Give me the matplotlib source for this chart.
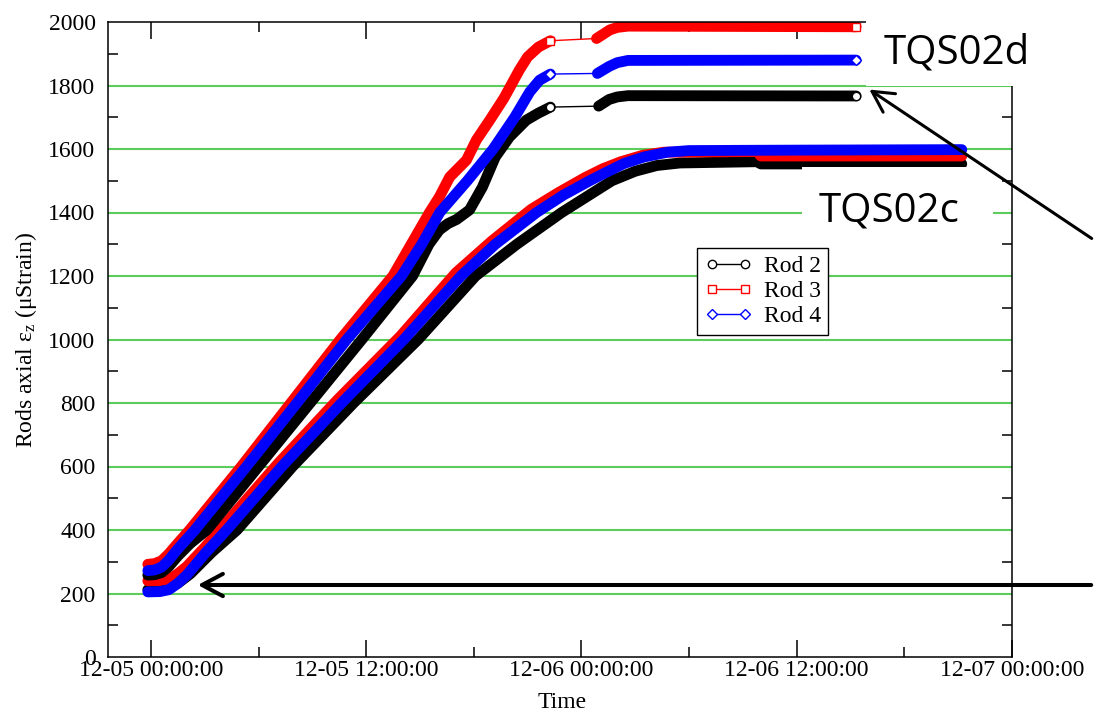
import matplotlib
matplotlib.use("Agg")
import matplotlib.pyplot as plt
from matplotlib.lines import Line2D
from matplotlib.patches import Rectangle, FancyArrowPatch

plt.rcParams['font.family'] = ['Liberation Serif', 'DejaVu Serif']
plt.rcParams['mathtext.fontset'] = 'custom'
plt.rcParams['mathtext.rm'] = 'Liberation Serif'
plt.rcParams['mathtext.it'] = 'Liberation Serif:italic'

# Time in hours since 12-05 00:00:00, strain in microstrain
tick_hours = [0, 12, 24, 36, 48]
tick_labels = ["12-05 00:00:00", "12-05 12:00:00", "12-06 00:00:00",
               "12-06 12:00:00", "12-07 00:00:00"]
rod_names = ["Rod 2", "Rod 3", "Rod 4"]
rod_colors = ["#000000", "#ff0000", "#0000ff"]
rod_markers = ["o", "s", "D"]

# TQS02d: two recorded stretches with a gap between them
tqs02d_rod2_hours_a = [-0.17, 0.2, 0.6, 1.0, 1.5, 2.2, 3.12, 6.0, 8.88, 11.76, 14.59,
                       15.5, 16.08, 16.56, 17.04, 17.76, 18.48, 19.2, 19.99, 20.93,
                       21.6, 22.27]
tqs02d_rod2_strain_a = [258, 259, 266, 285, 318, 358, 400, 600, 800, 1000, 1200,
                        1300, 1345, 1365, 1378, 1408, 1480, 1575, 1638, 1691,
                        1713, 1732]
tqs02d_rod2_hours_b = [24.96, 25.54, 26.0, 26.6, 39.31]
tqs02d_rod2_strain_b = [1735, 1756, 1764, 1768, 1767]

tqs02d_rod3_hours_a = [-0.17, 0.2, 0.6, 1.0, 1.5, 2.16, 5.04, 7.8, 10.56, 13.49, 15.53,
                       16.08, 16.66, 17.59, 18.14, 18.89, 19.68, 20.54, 21.0, 21.6,
                       22.27]
tqs02d_rod3_strain_a = [292, 294, 303, 325, 358, 400, 600, 800, 1000, 1200, 1400,
                        1449, 1512, 1565, 1628, 1691, 1760, 1849, 1890, 1921,
                        1941]
tqs02d_rod3_hours_b = [24.84, 25.58, 26.0, 26.6, 39.31]
tqs02d_rod3_strain_b = [1948, 1975, 1983, 1987, 1985]

tqs02d_rod4_hours_a = [-0.17, 0.2, 0.6, 1.0, 1.5, 2.45, 5.33, 8.14, 10.92, 13.97,
                       15.1, 16.10, 17.64, 19.08, 20.28, 21.12, 21.67, 22.27]
tqs02d_rod4_strain_a = [272, 274, 283, 305, 340, 400, 600, 800, 1000, 1200,
                        1300, 1400, 1500, 1600, 1700, 1780, 1817, 1836]
tqs02d_rod4_hours_b = [24.89, 25.54, 26.0, 26.6, 39.31]
tqs02d_rod4_strain_b = [1838, 1860, 1872, 1879, 1880]

# TQS02c: one continuous record
tqs02c_rod2_hours = [-0.17, 0.5, 1.0, 1.5, 2.2, 3.4, 4.8, 7.9, 11.3, 14.9, 18.1,
                     20.4, 22.9, 24.3, 25.7, 27.0, 28.2, 29.5, 33.8, 34.0, 45.2]
tqs02c_rod2_strain = [212, 213, 218, 232, 262, 330, 400, 600, 800, 1000, 1200,
                      1300, 1400, 1450, 1500, 1530, 1548, 1556, 1560, 1553, 1553]
tqs02c_rod3_hours = [-0.17, 0.5, 1.0, 1.5, 2.0, 3.0, 4.0, 7.1, 10.4, 13.9, 17.0,
                     19.0, 21.2, 22.7, 24.2, 25.2, 26.2, 27.4, 28.6, 33.8, 34.0, 45.2]
tqs02c_rod3_strain = [240, 241, 245, 262, 285, 345, 410, 610, 810, 1010, 1210,
                      1310, 1410, 1462, 1510, 1538, 1560, 1580, 1590, 1592, 1578, 1578]
tqs02c_rod4_hours = [-0.17, 0.5, 1.0, 1.5, 2.0, 3.0, 4.22, 7.3, 10.63, 14.1, 17.28,
                     19.2, 21.5, 23.0, 24.46, 25.5, 26.4, 27.5, 28.8, 30.0, 33.8, 45.2]
tqs02c_rod4_strain = [205, 206, 212, 232, 258, 325, 400, 600, 800, 1000, 1200,
                      1300, 1400, 1455, 1500, 1530, 1555, 1575, 1590, 1595, 1596, 1598]

W, H = 1094, 711
fig = plt.figure(figsize=(W / 100, H / 100), dpi=100)
ax = fig.add_axes([108 / W, 54 / H, 904 / W, 635 / H])

BAND = 7.8
FS = 17

ax.set_ylim(0, 2000)
ax.set_xlim(-2.39, 48)
for yv in range(200, 2000, 200):
    ax.axhline(yv, color="#5ccc5c", lw=1.5, zorder=1)

# TQS02c bands
c_series = [(tqs02c_rod2_hours, tqs02c_rod2_strain),
            (tqs02c_rod3_hours, tqs02c_rod3_strain),
            (tqs02c_rod4_hours, tqs02c_rod4_strain)]
for (hh, ss), col in zip(c_series, rod_colors):
    ax.plot(hh, ss, color=col, lw=BAND, solid_capstyle="round",
            solid_joinstyle="round", zorder=3)

# TQS02d bands, gap links and end markers
d_series = [(tqs02d_rod2_hours_a, tqs02d_rod2_strain_a, tqs02d_rod2_hours_b, tqs02d_rod2_strain_b),
            (tqs02d_rod3_hours_a, tqs02d_rod3_strain_a, tqs02d_rod3_hours_b, tqs02d_rod3_strain_b),
            (tqs02d_rod4_hours_a, tqs02d_rod4_strain_a, tqs02d_rod4_hours_b, tqs02d_rod4_strain_b)]
for (ha, sa, hb, sb), col, mk in zip(d_series, rod_colors, rod_markers):
    ax.plot(ha, sa, color=col, lw=BAND, solid_capstyle="round",
            solid_joinstyle="round", zorder=4)
    ax.plot(hb, sb, color=col, lw=BAND, solid_capstyle="round",
            solid_joinstyle="round", zorder=4)
    ax.plot([ha[-1], hb[0]], [sa[-1], sb[0]], color=col, lw=1.0, zorder=4)
    ax.plot([ha[-1], hb[-1]], [sa[-1], sb[-1]], ls="none", marker=mk,
            ms=6 if mk != "D" else 5.5, mfc="white", mec=col, mew=1.0, zorder=5)

# axes styling
for sp in ax.spines.values():
    sp.set_linewidth(1.1)
    sp.set_zorder(6)
ax.set_xticks(tick_hours)
ax.set_xticklabels(tick_labels)
ax.set_xticks([6, 18, 30, 42], minor=True)
ax.set_yticks(range(0, 2001, 200))
ax.set_yticks(range(100, 2000, 200), minor=True)
ax.tick_params(axis="x", which="major", direction="in", length=12, width=1.1,
               top=True, bottom=True, labelsize=FS, pad=2)
ax.tick_params(axis="x", which="minor", direction="in", length=7, width=1.1,
               top=True, bottom=True)
ax.tick_params(axis="y", which="major", direction="in", length=0,
               left=True, right=True, labelsize=FS, pad=9)
ax.tick_params(axis="y", which="minor", direction="in", length=7, width=1.1,
               left=True, right=True)

ax.set_xlabel("Time", fontsize=FS)
ax.xaxis.set_label_coords(0.502, -0.055)
ax.set_ylabel(r"Rods axial ε$_\mathrm{z}$ (μStrain)", fontsize=FS)
ax.yaxis.set_label_coords(-0.076, 0.5)

# legend
handles = [Line2D([0], [0], color=c, lw=1.0, marker=m, ms=6 if m != "D" else 5.5,
                  mfc="white", mec=c, mew=1.0)
           for c, m in zip(rod_colors, rod_markers)]
leg = ax.legend(handles, rod_names, loc="upper left",
                bbox_to_anchor=(697 / W, 463 / H), bbox_transform=fig.transFigure,
                borderaxespad=0, numpoints=2, fontsize=FS, frameon=True,
                fancybox=False, framealpha=1, edgecolor="black",
                handlelength=2.0, handletextpad=0.5, labelspacing=0.15,
                borderpad=0.32)
leg.get_frame().set_linewidth(1.0)
leg.set_zorder(7)

# label panels
fig.add_artist(Rectangle((866, 625), 228, 86, transform=None, facecolor="white",
                         edgecolor="none", zorder=8))
fig.add_artist(Rectangle((802, 471), 191, 73, transform=None, facecolor="white",
                         edgecolor="none", zorder=8))
fig.text(884 / W, 648 / H, "TQS02d", fontsize=29, family="Open Sans",
         va="baseline", ha="left", zorder=9)
fig.text(819 / W, 489 / H, "TQS02c", fontsize=29, family="Open Sans",
         va="baseline", ha="left", zorder=9)

# arrows
arr1 = FancyArrowPatch((1094, 126), (195, 126), transform=None,
                       arrowstyle="->,head_length=15,head_width=8",
                       mutation_scale=1, lw=2.9, color="black", zorder=10)
arr2 = FancyArrowPatch((1094, 471), (867, 623), transform=None,
                       arrowstyle="->,head_length=15,head_width=8",
                       mutation_scale=1, lw=2.2, color="black", zorder=10)
fig.add_artist(arr1)
fig.add_artist(arr2)

fig.savefig("out.png", dpi=100, facecolor="white")
